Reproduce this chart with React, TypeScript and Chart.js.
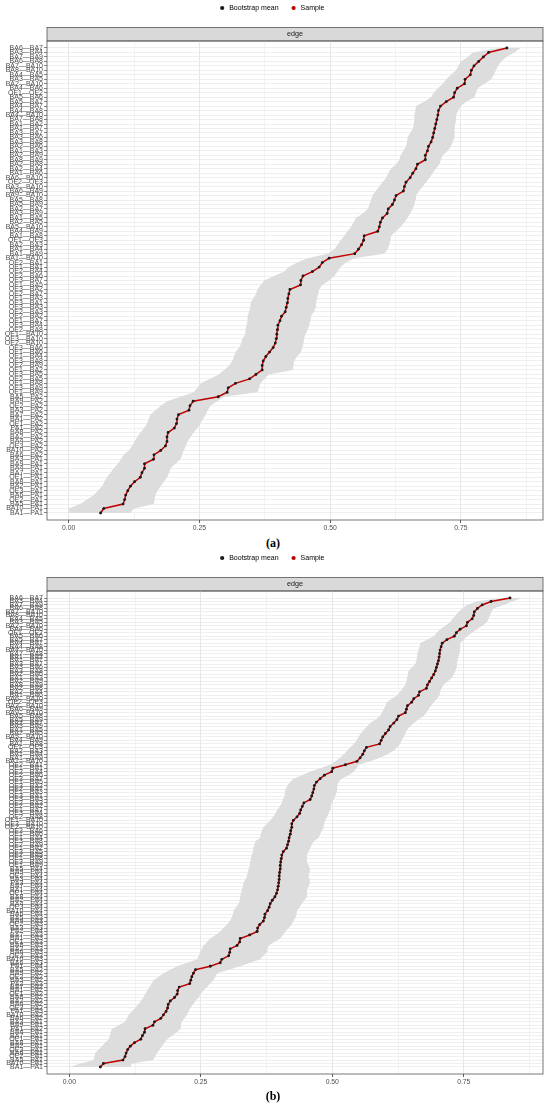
import React, { useEffect, useRef } from "react";
import { Chart, registerables } from "chart.js";

Chart.register(...registerables);

const FONT = "'Liberation Sans', Arial, Helvetica, sans-serif";

// Edge categories, listed from the top of the plot downwards
const edgesBA = [
  "BA6—BA7", "BA3—BA4", "BA7—BA9", "BA6—BA8", "BA7—BA10", "BA8—BA10", "BA4—BA5", "BA3—BA5",
  "BA2—BA10", "BA4—BA6", "OE1—OE2", "BA5—BA6", "BA5—BA7", "BA4—BA7", "BA4—BA8", "BA4—BA10",
  "BA7—BA8", "BA1—BA2", "BA1—BA7", "BA3—BA7", "BA3—BA6", "BA3—BA8", "BA2—BA6", "BA1—BA3",
  "BA2—BA9", "BA8—BA9", "BA2—BA8", "BA2—BA4", "BA1—BA6", "BA6—BA10", "OE2—OE3", "BA3—BA10",
  "BA6—BA9", "BA9—BA10", "BA5—BA8", "BA5—BA9", "BA2—BA7", "BA3—BA9", "BA1—BA5", "BA2—BA5",
  "BA5—BA10", "BA4—BA9", "BA1—BA8", "OE1—OE3", "BA2—BA3", "BA1—BA4", "BA1—BA9", "BA1—BA10",
];
const edgesOE = [
  "OE2—BA1", "OE1—BA1", "OE2—BA4", "OE2—BA6", "OE3—BA7", "OE1—BA5", "OE3—BA2", "OE2—BA7",
  "OE1—BA3", "OE3—BA1", "OE3—BA3", "OE2—BA3", "OE2—BA2", "OE1—BA7", "OE3—BA4", "OE2—BA8",
  "OE1—BA10", "OE3—BA10", "OE2—BA10", "OE3—BA6", "OE1—BA6", "OE1—BA4", "OE3—BA8", "OE2—BA9",
  "OE1—BA2", "OE3—BA5", "OE2—BA5", "OE1—BA8", "OE3—BA9", "OE1—BA9",
];
const edgesPA_A = [
  "BA5—PA2", "BA9—PA2", "OE2—PA2", "BA3—PA2", "BA7—PA2", "BA1—PA2", "OE1—PA2", "PA1—PA2",
  "BA8—PA2", "BA2—PA2", "BA4—PA2", "OE3—PA2", "BA10—PA2", "BA6—PA2", "BA3—PA1", "BA9—PA1",
  "BA4—PA1", "BA7—PA1", "OE1—PA1", "BA8—PA1", "BA2—PA1", "OE3—PA1", "BA6—PA1", "OE2—PA1",
  "BA5—PA1", "BA10—PA1", "BA1—PA1",
];
const edgesPA_B = [
  "BA5—PA4", "BA9—PA4", "OE2—PA4", "BA3—PA4", "PA3—PA4", "BA7—PA4", "BA1—PA4", "OE1—PA4",
  "BA8—PA4", "BA2—PA4", "BA4—PA4", "OE3—PA4", "BA10—PA4", "BA6—PA4", "BA5—PA3", "BA9—PA3",
  "OE2—PA3", "BA3—PA3", "PA2—PA4", "BA7—PA3", "BA1—PA3", "OE1—PA3", "BA8—PA3", "BA2—PA3",
  "BA4—PA3", "OE3—PA3", "BA10—PA3", "BA6—PA3", "PA1—PA4", "BA5—PA2", "BA9—PA2", "OE2—PA2",
  "BA3—PA2", "PA2—PA3", "BA7—PA2", "BA1—PA2", "OE1—PA2", "BA8—PA2", "BA2—PA2", "BA4—PA2",
  "OE3—PA2", "PA1—PA3", "BA10—PA2", "BA6—PA2", "BA3—PA1", "BA9—PA1", "PA1—PA2", "BA4—PA1",
  "BA7—PA1", "OE1—PA1", "BA8—PA1", "BA2—PA1", "OE3—PA1", "BA6—PA1", "OE2—PA1", "BA5—PA1",
  "BA10—PA1", "BA1—PA1",
];

// Values below are listed from the bottom row upwards
const sampleA = [
  0.061, 0.067, 0.104, 0.107, 0.109, 0.113, 0.118, 0.126, 0.137, 0.140,
  0.145, 0.145, 0.162, 0.163, 0.176, 0.185, 0.188, 0.188, 0.190, 0.202,
  0.206, 0.207, 0.210, 0.230, 0.232, 0.238, 0.286, 0.303, 0.305, 0.319,
  0.346, 0.358, 0.370, 0.370, 0.372, 0.377, 0.384, 0.391, 0.395, 0.397,
  0.398, 0.399, 0.400, 0.404, 0.407, 0.414, 0.416, 0.418, 0.419, 0.421,
  0.423, 0.443, 0.444, 0.448, 0.466, 0.479, 0.485, 0.498, 0.547, 0.554,
  0.560, 0.564, 0.565, 0.591, 0.594, 0.596, 0.600, 0.609, 0.611, 0.619,
  0.623, 0.626, 0.640, 0.642, 0.645, 0.653, 0.658, 0.664, 0.667, 0.682,
  0.682, 0.686, 0.688, 0.693, 0.696, 0.698, 0.700, 0.702, 0.704, 0.706,
  0.707, 0.711, 0.722, 0.736, 0.738, 0.743, 0.757, 0.758, 0.768, 0.770,
  0.775, 0.784, 0.793, 0.803, 0.838,
];
const lowerA = [
  0.000, 0.000, 0.022, 0.035, 0.048, 0.056, 0.064, 0.068, 0.073, 0.080,
  0.086, 0.094, 0.100, 0.105, 0.115, 0.121, 0.126, 0.131, 0.137, 0.144,
  0.150, 0.153, 0.156, 0.166, 0.176, 0.188, 0.214, 0.239, 0.246, 0.252,
  0.271, 0.287, 0.297, 0.307, 0.313, 0.316, 0.319, 0.326, 0.330, 0.332,
  0.338, 0.338, 0.340, 0.342, 0.342, 0.345, 0.347, 0.348, 0.353, 0.358,
  0.361, 0.367, 0.374, 0.393, 0.412, 0.421, 0.437, 0.457, 0.495, 0.508,
  0.514, 0.520, 0.527, 0.533, 0.540, 0.545, 0.549, 0.562, 0.572, 0.575,
  0.578, 0.581, 0.587, 0.594, 0.600, 0.607, 0.611, 0.616, 0.626, 0.632,
  0.635, 0.640, 0.645, 0.647, 0.648, 0.653, 0.658, 0.660, 0.661, 0.661,
  0.663, 0.664, 0.680, 0.693, 0.698, 0.706, 0.715, 0.722, 0.731, 0.741,
  0.745, 0.750, 0.763, 0.773, 0.821,
];
const upperA = [
  0.118, 0.125, 0.163, 0.164, 0.166, 0.170, 0.176, 0.182, 0.188, 0.192,
  0.195, 0.204, 0.214, 0.217, 0.220, 0.224, 0.227, 0.233, 0.239, 0.246,
  0.252, 0.257, 0.262, 0.266, 0.271, 0.284, 0.297, 0.361, 0.364, 0.367,
  0.374, 0.383, 0.428, 0.430, 0.431, 0.437, 0.444, 0.447, 0.449, 0.450,
  0.453, 0.457, 0.460, 0.462, 0.463, 0.469, 0.473, 0.473, 0.475, 0.477,
  0.479, 0.485, 0.498, 0.508, 0.514, 0.520, 0.530, 0.546, 0.603, 0.610,
  0.613, 0.615, 0.616, 0.626, 0.635, 0.642, 0.648, 0.653, 0.658, 0.661,
  0.663, 0.664, 0.670, 0.677, 0.683, 0.690, 0.696, 0.702, 0.709, 0.712,
  0.715, 0.725, 0.731, 0.734, 0.738, 0.738, 0.738, 0.739, 0.741, 0.741,
  0.745, 0.750, 0.760, 0.776, 0.779, 0.782, 0.795, 0.808, 0.813, 0.817,
  0.821, 0.827, 0.837, 0.852, 0.864,
];

const sampleB = [
  0.059, 0.065, 0.102, 0.106, 0.108, 0.111, 0.116, 0.124, 0.136, 0.139,
  0.143, 0.144, 0.159, 0.162, 0.174, 0.179, 0.184, 0.187, 0.188, 0.192,
  0.200, 0.205, 0.206, 0.209, 0.229, 0.231, 0.233, 0.236, 0.240, 0.268,
  0.287, 0.290, 0.303, 0.305, 0.306, 0.319, 0.324, 0.325, 0.343, 0.357,
  0.358, 0.362, 0.369, 0.371, 0.372, 0.377, 0.380, 0.382, 0.386, 0.391,
  0.394, 0.396, 0.397, 0.398, 0.399, 0.399, 0.400, 0.401, 0.401, 0.402,
  0.403, 0.404, 0.407, 0.413, 0.415, 0.417, 0.418, 0.420, 0.421, 0.423,
  0.423, 0.426, 0.433, 0.438, 0.440, 0.443, 0.446, 0.458, 0.461, 0.463,
  0.465, 0.466, 0.470, 0.477, 0.485, 0.499, 0.501, 0.525, 0.547, 0.553,
  0.558, 0.561, 0.565, 0.590, 0.593, 0.596, 0.601, 0.607, 0.610, 0.617,
  0.623, 0.626, 0.639, 0.641, 0.643, 0.651, 0.655, 0.664, 0.666, 0.679,
  0.681, 0.685, 0.689, 0.693, 0.696, 0.698, 0.700, 0.702, 0.703, 0.704,
  0.705, 0.707, 0.709, 0.718, 0.732, 0.736, 0.743, 0.755, 0.757, 0.766,
  0.769, 0.770, 0.776, 0.785, 0.802, 0.838,
];
const lowerB = [
  0.001, 0.021, 0.046, 0.048, 0.049, 0.056, 0.062, 0.068, 0.075, 0.077,
  0.079, 0.081, 0.094, 0.106, 0.110, 0.113, 0.119, 0.125, 0.131, 0.136,
  0.141, 0.144, 0.148, 0.152, 0.157, 0.160, 0.170, 0.179, 0.192, 0.205,
  0.224, 0.243, 0.246, 0.249, 0.252, 0.255, 0.262, 0.268, 0.278, 0.287,
  0.293, 0.300, 0.305, 0.309, 0.311, 0.312, 0.317, 0.322, 0.324, 0.325,
  0.326, 0.328, 0.330, 0.331, 0.335, 0.338, 0.339, 0.341, 0.343, 0.344,
  0.345, 0.347, 0.349, 0.350, 0.352, 0.354, 0.363, 0.364, 0.366, 0.369,
  0.376, 0.382, 0.388, 0.392, 0.395, 0.400, 0.404, 0.406, 0.409, 0.410,
  0.411, 0.415, 0.420, 0.426, 0.442, 0.458, 0.477, 0.496, 0.506, 0.515,
  0.522, 0.528, 0.534, 0.541, 0.546, 0.550, 0.554, 0.560, 0.566, 0.572,
  0.582, 0.591, 0.594, 0.598, 0.601, 0.604, 0.613, 0.623, 0.629, 0.634,
  0.639, 0.641, 0.642, 0.644, 0.645, 0.651, 0.658, 0.660, 0.661, 0.662,
  0.664, 0.666, 0.667, 0.680, 0.693, 0.699, 0.705, 0.715, 0.724, 0.729,
  0.734, 0.740, 0.747, 0.756, 0.775, 0.819,
];
const upperB = [
  0.116, 0.119, 0.160, 0.163, 0.167, 0.172, 0.176, 0.181, 0.186, 0.195,
  0.205, 0.211, 0.212, 0.214, 0.219, 0.224, 0.227, 0.230, 0.235, 0.240,
  0.246, 0.250, 0.255, 0.262, 0.268, 0.274, 0.278, 0.281, 0.303, 0.325,
  0.344, 0.363, 0.369, 0.376, 0.377, 0.379, 0.390, 0.401, 0.406, 0.411,
  0.417, 0.423, 0.426, 0.430, 0.432, 0.433, 0.438, 0.442, 0.447, 0.452,
  0.452, 0.452, 0.455, 0.458, 0.457, 0.455, 0.457, 0.458, 0.455, 0.452,
  0.452, 0.452, 0.455, 0.458, 0.461, 0.465, 0.474, 0.477, 0.480, 0.484,
  0.484, 0.487, 0.490, 0.493, 0.496, 0.497, 0.499, 0.503, 0.506, 0.508,
  0.509, 0.510, 0.512, 0.518, 0.531, 0.541, 0.546, 0.550, 0.572, 0.591,
  0.604, 0.617, 0.623, 0.629, 0.632, 0.636, 0.639, 0.642, 0.648, 0.655,
  0.664, 0.674, 0.679, 0.683, 0.688, 0.693, 0.699, 0.704, 0.705, 0.708,
  0.712, 0.719, 0.727, 0.731, 0.734, 0.736, 0.737, 0.738, 0.740, 0.742,
  0.743, 0.743, 0.743, 0.750, 0.756, 0.766, 0.775, 0.785, 0.794, 0.797,
  0.800, 0.802, 0.807, 0.826, 0.842, 0.861,
];

// In the picture the bootstrap means sit on top of the sample values
const bootMeanA = sampleA;
const bootMeanB = sampleB;

const labelsA = [...edgesBA, ...edgesOE, ...edgesPA_A].reverse();
const labelsB = [...edgesBA, ...edgesOE, ...edgesPA_B].reverse();

const xGridValues = [0, 0.125, 0.25, 0.375, 0.5, 0.625, 0.75, 0.875];
const xMajorValues = [0, 0.25, 0.5, 0.75];

const isMajor = (v: number) => xMajorValues.some((m) => Math.abs(m - v) < 1e-9);

type PanelProps = {
  labels: string[];
  sample: number[];
  boot: number[];
  lower: number[];
  upper: number[];
  xMin: number;
  xMax: number;
  yPad: number;
  height: number;
};

function Panel({ labels, sample, boot, lower, upper, xMin, xMax, yPad, height }: PanelProps) {
  const ref = useRef<HTMLCanvasElement | null>(null);

  useEffect(() => {
    if (!ref.current) return;
    const n = labels.length;
    const pts = (arr: number[]) => arr.map((v, i) => ({ x: v, y: i }));

    const panelDeco = {
      id: "panelDeco",
      beforeDraw(chart: any) {
        const { ctx, chartArea: a } = chart;
        const h = 13.5;
        ctx.save();
        ctx.fillStyle = "#d9d9d9";
        ctx.fillRect(a.left, a.top - h, a.right - a.left, h);
        ctx.strokeStyle = "#555555";
        ctx.lineWidth = 0.8;
        ctx.strokeRect(a.left, a.top - h, a.right - a.left, h);
        ctx.restore();
      },
      afterDraw(chart: any) {
        const { ctx, chartArea: a } = chart;
        ctx.save();
        ctx.strokeStyle = "#555555";
        ctx.lineWidth = 0.8;
        ctx.strokeRect(a.left, a.top, a.right - a.left, a.bottom - a.top);
        ctx.restore();
      },
    };

    const chart = new Chart(ref.current, {
      type: "line",
      data: {
        datasets: [
          {
            label: "lower",
            data: pts(lower),
            borderWidth: 0,
            pointRadius: 0,
            fill: false,
            backgroundColor: "#dddddd",
            order: 3,
          },
          {
            label: "upper",
            data: pts(upper),
            borderWidth: 0,
            pointRadius: 0,
            fill: "-1",
            backgroundColor: "#dddddd",
            order: 3,
          },
          {
            label: "Bootstrap mean",
            data: pts(boot),
            showLine: false,
            borderColor: "#000000",
            backgroundColor: "#000000",
            pointRadius: 1.4,
            pointBorderWidth: 0,
            pointBackgroundColor: "#1a1a1a",
            pointBorderColor: "#1a1a1a",
            order: 1,
          },
          {
            label: "Sample",
            data: pts(sample),
            borderColor: "#c00000",
            backgroundColor: "#c00000",
            borderWidth: 1.5,
            pointRadius: 1,
            pointBorderWidth: 0,
            pointBackgroundColor: "#c00000",
            pointBorderColor: "#c00000",
            order: 2,
          },
        ] as any,
      },
      options: {
        indexAxis: "y",
        animation: false,
        responsive: false,
        events: [],
        layout: { padding: { top: -7, right: 7, bottom: 4, left: 0 } },
        plugins: {
          legend: {
            display: true,
            position: "top",
            align: "center",
            weight: 1000,
            labels: {
              usePointStyle: true,
              pointStyle: "circle",
              boxWidth: 7,
              boxHeight: 3,
              padding: 11.5,
              color: "#000000",
              font: { family: FONT, size: 7 },
              filter: (item: any) => item.datasetIndex >= 2,
            },
          },
          title: {
            display: true,
            text: "edge",
            position: "top",
            fullSize: false,
            weight: 500,
            align: "center",
            color: "#1a1a1a",
            font: { family: FONT, size: 7.2, weight: "normal" },
            padding: { top: 8.4, bottom: 2.45 },
          },
          tooltip: { enabled: false },
        },
        scales: {
          x: {
            type: "linear",
            position: "bottom",
            min: xMin,
            max: xMax,
            afterBuildTicks: (s: any) => {
              s.ticks = xGridValues.map((v) => ({ value: v }));
            },
            afterFit: (s: any) => {
              s.height = 12;
            },
            ticks: {
              autoSkip: false,
              maxRotation: 0,
              padding: 1,
              color: "#4d4d4d",
              font: { family: FONT, size: 6.8 },
              callback: (v: any) => (isMajor(Number(v)) ? Number(v).toFixed(2) : ""),
            },
            grid: {
              color: "#e4e4e4",
              lineWidth: (c: any) => (c.tick && isMajor(c.tick.value) ? 0.9 : 0.45),
              drawTicks: true,
              tickLength: 3,
              tickWidth: 0.8,
              tickColor: (c: any) => (c.tick && isMajor(c.tick.value) ? "#333333" : "rgba(0,0,0,0)"),
            },
            border: { display: false },
          },
          y: {
            type: "linear",
            min: -yPad,
            max: n - 1 + yPad,
            afterBuildTicks: (s: any) => {
              s.ticks = labels.map((_, i) => ({ value: i }));
            },
            afterFit: (s: any) => {
              s.width = 47;
            },
            ticks: {
              autoSkip: false,
              padding: 1,
              color: "#4d4d4d",
              font: { family: FONT, size: 7 },
              callback: (v: any) => labels[Number(v)] ?? "",
            },
            grid: {
              color: "#e8e8e8",
              lineWidth: 0.7,
              drawTicks: true,
              tickLength: 3,
              tickWidth: 0.6,
              tickColor: "#333333",
            },
            border: { display: false },
          },
        },
      } as any,
      plugins: [panelDeco],
    });
    return () => chart.destroy();
  }, []);

  return <canvas ref={ref} width={550} height={height} style={{ display: "block" }} />;
}

export default function App() {
  const caption: React.CSSProperties = {
    position: "absolute",
    left: -2,
    width: 550,
    textAlign: "center",
    fontFamily: "'Liberation Serif', 'DejaVu Serif', serif",
    fontWeight: "bold",
    fontSize: 12,
    lineHeight: "14px",
    color: "#000",
  };
  return (
    <div style={{ position: "absolute", left: 0, top: 0, width: 550, height: 1107, background: "#fff" }}>
      <div style={{ position: "absolute", left: 0, top: 0 }}>
        <Panel
          labels={labelsA}
          sample={sampleA}
          boot={bootMeanA}
          lower={lowerA}
          upper={upperA}
          xMin={-0.0415}
          xMax={0.907}
          yPad={1.566}
          height={536}
        />
      </div>
      <div style={{ ...caption, top: 536 }}>(a)</div>
      <div style={{ position: "absolute", left: 0, top: 550 }}>
        <Panel
          labels={labelsB}
          sample={sampleB}
          boot={bootMeanB}
          lower={lowerB}
          upper={upperB}
          xMin={-0.0424}
          xMax={0.9007}
          yPad={2.02}
          height={540}
        />
      </div>
      <div style={{ ...caption, top: 1089 }}>(b)</div>
    </div>
  );
}
